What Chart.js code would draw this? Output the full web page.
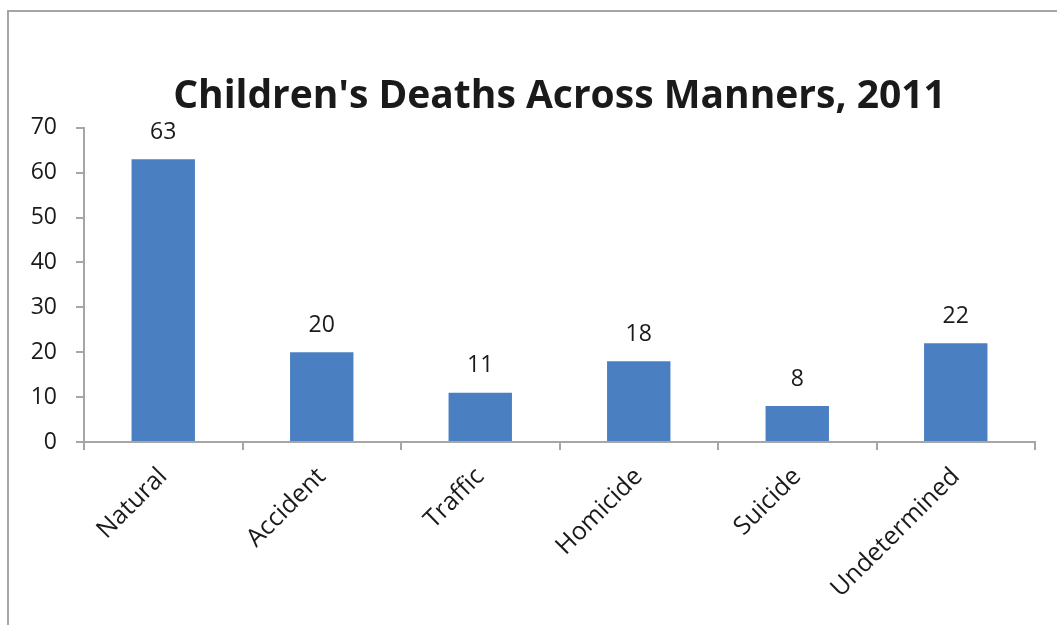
<!DOCTYPE html>
<html>
<head>
<meta charset="utf-8">
<script src="https://cdn.jsdelivr.net/npm/chart.js@4"></script>
<style>
  html, body { margin: 0; padding: 0; background: #fff; overflow: hidden; }
  #wrap { position: relative; width: 1057px; height: 625px; }
  #frame { position: absolute; left: 7px; top: 10px; width: 1100px; height: 700px;
           border-top: 2px solid #a6a6a6; border-left: 2px solid #a6a6a6; }
  canvas { position: absolute; left: 0; top: 0; }
</style>
</head>
<body>
<div id="wrap">
  <div id="frame"></div>
  <canvas id="barChart" width="1057" height="625"></canvas>
</div>
<script>
var categories = ['Natural', 'Accident', 'Traffic', 'Homicide', 'Suicide', 'Undetermined'];
var deaths = [63, 20, 11, 18, 8, 22];
var yTicks = [0, 10, 20, 30, 40, 50, 60, 70];

var fontFamily = '"Open Sans", Lato, sans-serif';
var axisGray = '#a6a6a6';

// value labels above the bars
var barLabels = {
    id: 'barLabels',
    afterDatasetsDraw: function (chart) {
        var ctx = chart.ctx;
        var meta = chart.getDatasetMeta(0);
        ctx.save();
        ctx.font = '23px ' + fontFamily;
        ctx.fillStyle = '#1a1a1a';
        ctx.textAlign = 'center';
        ctx.textBaseline = 'middle';
        meta.data.forEach(function (bar, i) {
            ctx.fillText(deaths[i], bar.x, bar.y - 27);
        });
        ctx.restore();
    }
};

var ctx = document.getElementById('barChart').getContext('2d');
var myChart = new Chart(ctx, {
    type: 'bar',
    data: {
        labels: categories,
        datasets: [{
            data: deaths,
            backgroundColor: '#4a7fc1',
            borderWidth: 0,
            categoryPercentage: 1,
            barPercentage: 0.4
        }]
    },
    plugins: [barLabels],
    options: {
        responsive: false,
        animation: false,
        layout: { padding: { top: 73, right: 22, left: 0, bottom: 0 } },
        plugins: {
            legend: { display: false },
            tooltip: { enabled: false },
            title: {
                display: true,
                text: "Children's Deaths Across Manners, 2011",
                fullSize: false,
                color: '#1a1a1a',
                font: { family: fontFamily, size: 39, weight: 'bold', lineHeight: 1.2 },
                padding: { top: 0, bottom: 8 }
            }
        },
        scales: {
            x: {
                grid: { drawOnChartArea: false, tickLength: 8, color: axisGray, lineWidth: 2 },
                border: { color: axisGray, width: 2 },
                ticks: {
                    autoSkip: false, minRotation: 45, maxRotation: 45,
                    padding: 12, color: '#1a1a1a',
                    font: { family: fontFamily, size: 25 }
                },
                afterFit: function (scale) { scale.height = 183; }
            },
            y: {
                min: yTicks[0],
                max: yTicks[yTicks.length - 1],
                grid: { drawOnChartArea: false, tickLength: 8, color: axisGray, lineWidth: 2 },
                border: { color: axisGray, width: 2 },
                afterBuildTicks: function (scale) {
                    scale.ticks = yTicks.map(function (v) { return { value: v }; });
                },
                ticks: { padding: 19, color: '#1a1a1a', font: { family: fontFamily, size: 23 } },
                afterFit: function (scale) { scale.width = 84; }
            }
        }
    }
});
</script>
</body>
</html>
